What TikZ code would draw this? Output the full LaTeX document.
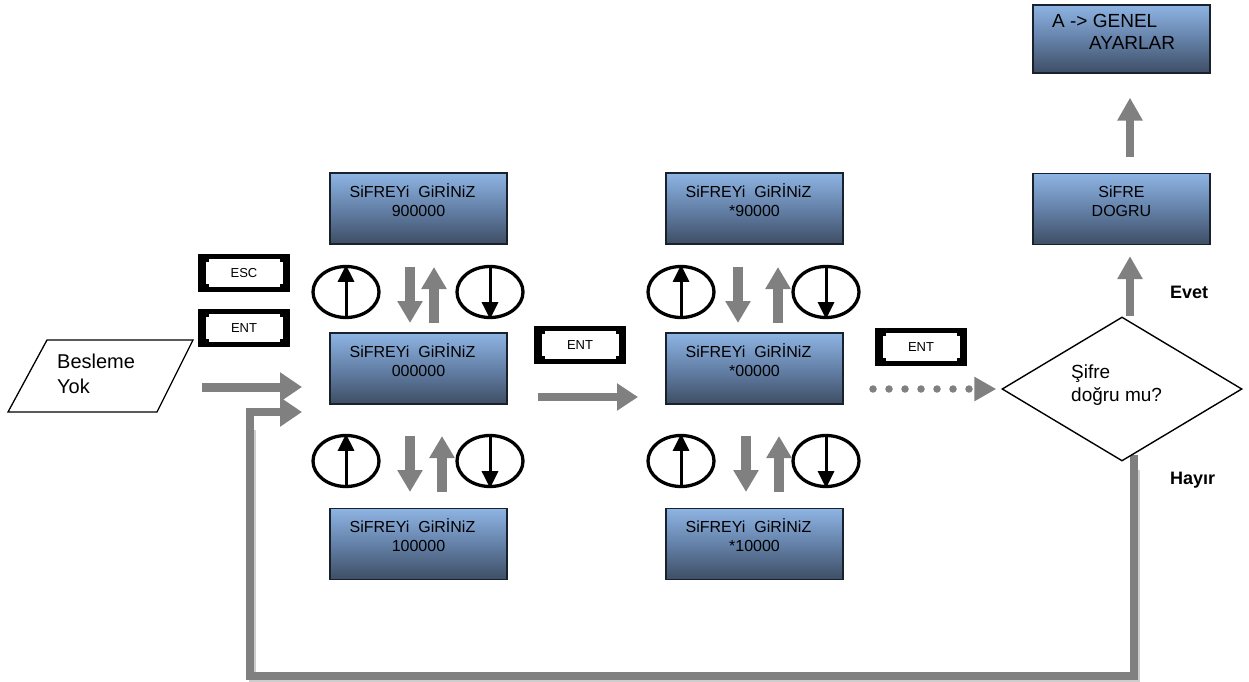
\documentclass[tikz,border=0pt]{standalone}
\usepackage{fontspec}
\setmainfont{Liberation Sans}
\usetikzlibrary{arrows.meta,shapes.geometric,calc}
\definecolor{arrgray}{RGB}{128,128,128}
\definecolor{shadowgray}{RGB}{205,205,205}
\definecolor{lcdtop}{RGB}{142,180,227}
\definecolor{lcdmid}{RGB}{100,129,168}
\definecolor{lcdbot}{RGB}{62,78,101}
\definecolor{lcdline}{RGB}{25,33,45}
\tikzset{
 lcd/.style={rectangle, draw=lcdline, line width=1.3pt, top color=lcdtop, bottom color=lcdbot, middle color=lcdmid, minimum width=177pt, minimum height=71pt, inner sep=0pt},
 lcdtxt/.style={anchor=base, inner sep=0pt, font=\fontsize{16}{19}\selectfont},
 keybox/.style={rectangle, fill=black, minimum width=92pt, minimum height=38pt, inner sep=0pt},
 keytxt/.style={inner sep=0pt, font=\fontsize{13}{15}\selectfont},
 ebtn/.style={ellipse, draw=black, line width=3.3pt, minimum width=66pt, minimum height=51pt, inner sep=0pt},
 earr/.style={draw=black, line width=3pt, -{Triangle[length=17pt,width=16pt]}},
 garr/.style={draw=arrgray, line width=10pt, -{Triangle[length=22pt,width=24pt]}},
 bigarr/.style={draw=arrgray, line width=9pt, -{Triangle[length=22pt,width=28pt]}},
 looparr/.style={draw=arrgray, line width=7.5pt, line join=miter, -{Triangle[length=22pt,width=28pt]}},
 loopshadow/.style={draw=shadowgray, line width=7pt, line join=miter},
 dotarr/.style={draw=arrgray, line width=7.5pt, line cap=round, dash pattern=on 0pt off 16pt, -{Triangle[length=22pt,width=23pt]}},
 bodytxt/.style={inner sep=0pt, anchor=base west, font=\fontsize{19}{22}\selectfont},
 yesno/.style={inner sep=0pt, anchor=base west, font=\bfseries\fontsize{18}{21}\selectfont},
}
\newcommand\lcdbox[5]{%
 \node[lcd] (#1) at (#2) {};
 \node[lcdtxt] (#1a) at ($(#1.north)+(#5,25)$) {#3};
 \node[lcdtxt] (#1b) at ($(#1.north)+(0,44)$) {#4};}
\newcommand\keybtn[3]{%
 \node[keybox] (#1) at (#2) {};
 \fill[white] ($(#1.north west)+(8,5)$) rectangle ($(#1.south east)+(-7,-5)$);
 \fill[black] ($(#1.north west)+(8,5)$) rectangle ++(3,3);
 \fill[black] ($(#1.north east)+(-7,5)$) rectangle ++(-3,3);
 \fill[black] ($(#1.south west)+(8,-5)$) rectangle ++(3,-3);
 \fill[black] ($(#1.south east)+(-7,-5)$) rectangle ++(-3,-3);
 \node[keytxt] (#1t) at (#1.center) {#3};}
\newcommand\upbtn[2]{\node[ebtn] (#1) at (#2) {}; \draw[earr] (#1.south) -- (#1.north);}
\newcommand\dnbtn[2]{\node[ebtn] (#1) at (#2) {}; \draw[earr] (#1.north) -- (#1.south);}
\newcommand\gpair[4]{\draw[garr] (#1,#3) -- (#1,#4); \draw[garr] (#2,#4) -- (#2,#3);}
\begin{document}
\begin{tikzpicture}[x=1pt,y=-1pt]
\useasboundingbox[fill=white] (0,0) rectangle (1249,682);

% loop shadow and loop arrow
\coordinate (lr) at (1134,676);
\coordinate (ll) at (250,676);
\coordinate (lu) at (250,412);
\coordinate (le) at (302,412);
\draw[loopshadow] (1136.5,470) -- (1136.5,678.5) -- (252.5,678.5) -- (252.5,430);

% LCD boxes
\lcdbox{a1}{418.5,208.5}{SiFREYi\ \ GiRİNiZ}{900000}{-6}
\lcdbox{a2}{418.5,368.5}{SiFREYi\ \ GiRİNiZ}{000000}{-6}
\lcdbox{a3}{418.5,544}{SiFREYi\ \ GiRİNiZ}{100000}{-6}
\lcdbox{b1}{754.5,208.5}{SiFREYi\ \ GiRİNiZ}{*90000}{-6}
\lcdbox{b2}{754.5,368.5}{SiFREYi\ \ GiRİNiZ}{*00000}{-6}
\lcdbox{b3}{754.5,544}{SiFREYi\ \ GiRİNiZ}{*10000}{-6}
\lcdbox{sd}{1121.5,209}{SiFRE}{DOGRU}{0}
\node[lcd, minimum height=68pt] (gen) at (1121.5,39) {};
\node[bodytxt, font=\fontsize{19}{22}\selectfont] (gena) at (1052,28) {A -> GENEL};
\node[bodytxt, font=\fontsize{19}{22}\selectfont] (genb) at (1089,50) {AYARLAR};

% key buttons
\keybtn{esc}{244,273}{ESC}
\keybtn{ent1}{244,328}{ENT}
\keybtn{ent2}{580,345}{ENT}
\keybtn{ent3}{921,347}{ENT}

% up/down buttons
\upbtn{u1}{346,292} \dnbtn{d1}{490,292}
\upbtn{u2}{346,461} \dnbtn{d2}{490,461}
\upbtn{u3}{681,292} \dnbtn{d3}{826,292}
\upbtn{u4}{681,461} \dnbtn{d4}{826,461}

% gray up/down arrows
\gpair{410}{434}{267}{323}
\gpair{410}{442}{436}{492}
\gpair{738}{778}{267}{323}
\gpair{746}{779}{436}{492}

% Besleme Yok
\draw[line width=1.3pt, line join=miter] (47,340) -- (193,340) -- (157,412) -- (8,412) -- cycle;
\node[bodytxt, font=\fontsize{20}{23}\selectfont] (bes1) at (57,368) {Besleme};
\node[bodytxt, font=\fontsize{20}{23}\selectfont] (bes2) at (57,393) {Yok};
\coordinate (bs) at (202,387);
\coordinate (be) at (302,387);
\draw[bigarr] (bs) -- (be);

% loop
\draw[looparr] (1134,455) -- (lr) -- (ll) -- (lu) -- (le);

% ENT arrow between columns
\coordinate (cs) at (538,397);
\coordinate (ce) at (638,397);
\draw[bigarr, line width=8pt, -{Triangle[length=21pt,width=26pt]}] (cs) -- (ce);

% decision
\node[diamond, draw=black, line width=1.4pt, minimum width=240pt, minimum height=144pt, aspect=1.667, inner sep=0pt] (dia) at (1122,389) {};
\node[bodytxt] (q1) at (1071,378) {Şifre};
\node[bodytxt] (q2) at (1071,401) {doğru mu?};
\coordinate (ds) at (873,389);
\draw[dotarr] (ds) -- ([xshift=-5pt]dia.west);

% yes path
\draw[bigarr, line width=8pt, -{Triangle[length=23pt,width=24pt]}] ([xshift=8pt]dia.north) -- ($(sd.south)+(8.5,11)$);
\draw[bigarr, line width=8pt, -{Triangle[length=23pt,width=24pt]}] ($(sd.north)+(8.5,-16)$) -- ($(gen.south)+(8.5,24)$);

\node[yesno] (evet) at (1170,298) {Evet};
\node[yesno] (hayir) at (1170,484) {Hayır};
\end{tikzpicture}
\end{document}
